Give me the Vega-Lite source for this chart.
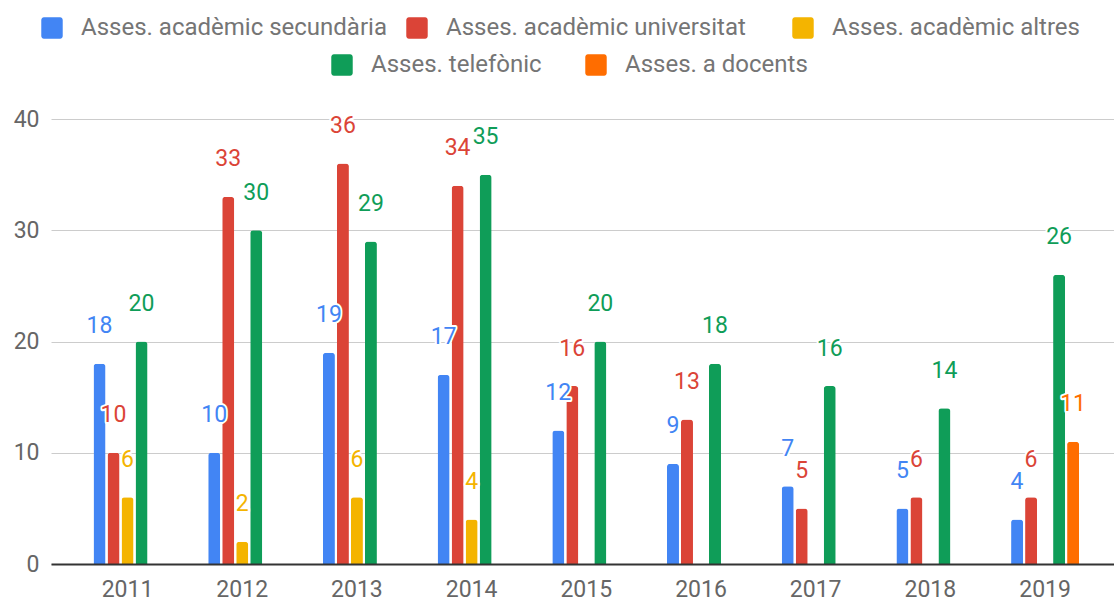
{
  "$schema": "https://vega.github.io/schema/vega-lite/v6.json",
  "width": 1063,
  "height": 445,
  "autosize": {"type": "none"},
  "padding": {"left": 51, "top": 119, "right": 0, "bottom": 37},
  "background": "white",
  "config": {
    "font": "Roboto",
    "view": {"stroke": null},
    "legend": {
      "title": null,
      "orient": "none",
      "direction": "horizontal",
      "symbolType": "M-0.75,-1L0.75,-1A0.25,0.25 0 0 1 1,-0.75L1,0.75A0.25,0.25 0 0 1 0.75,1L-0.75,1A0.25,0.25 0 0 1 -1,0.75L-1,-0.75A0.25,0.25 0 0 1 -0.75,-1Z",
      "symbolSize": 460,
      "symbolStrokeWidth": 0,
      "symbolOpacity": 1,
      "labelFontSize": 24,
      "labelColor": "#757575",
      "labelOffset": 17,
      "labelLimit": 500
    }
  },
  "data": {
    "values": [
      {"year": "2011", "series": "Asses. acadèmic secundària", "value": 18},
      {"year": "2011", "series": "Asses. acadèmic universitat", "value": 10},
      {"year": "2011", "series": "Asses. acadèmic altres", "value": 6},
      {"year": "2011", "series": "Asses. telefònic", "value": 20},
      {"year": "2012", "series": "Asses. acadèmic secundària", "value": 10},
      {"year": "2012", "series": "Asses. acadèmic universitat", "value": 33},
      {"year": "2012", "series": "Asses. acadèmic altres", "value": 2},
      {"year": "2012", "series": "Asses. telefònic", "value": 30},
      {"year": "2013", "series": "Asses. acadèmic secundària", "value": 19},
      {"year": "2013", "series": "Asses. acadèmic universitat", "value": 36},
      {"year": "2013", "series": "Asses. acadèmic altres", "value": 6},
      {"year": "2013", "series": "Asses. telefònic", "value": 29},
      {"year": "2014", "series": "Asses. acadèmic secundària", "value": 17},
      {"year": "2014", "series": "Asses. acadèmic universitat", "value": 34},
      {"year": "2014", "series": "Asses. acadèmic altres", "value": 4},
      {"year": "2014", "series": "Asses. telefònic", "value": 35},
      {"year": "2015", "series": "Asses. acadèmic secundària", "value": 12},
      {"year": "2015", "series": "Asses. acadèmic universitat", "value": 16},
      {"year": "2015", "series": "Asses. telefònic", "value": 20},
      {"year": "2016", "series": "Asses. acadèmic secundària", "value": 9},
      {"year": "2016", "series": "Asses. acadèmic universitat", "value": 13},
      {"year": "2016", "series": "Asses. telefònic", "value": 18},
      {"year": "2017", "series": "Asses. acadèmic secundària", "value": 7},
      {"year": "2017", "series": "Asses. acadèmic universitat", "value": 5},
      {"year": "2017", "series": "Asses. telefònic", "value": 16},
      {"year": "2018", "series": "Asses. acadèmic secundària", "value": 5},
      {"year": "2018", "series": "Asses. acadèmic universitat", "value": 6},
      {"year": "2018", "series": "Asses. telefònic", "value": 14},
      {"year": "2019", "series": "Asses. acadèmic secundària", "value": 4},
      {"year": "2019", "series": "Asses. acadèmic universitat", "value": 6},
      {"year": "2019", "series": "Asses. telefònic", "value": 26},
      {"year": "2019", "series": "Asses. a docents", "value": 11}
    ]
  },
  "encoding": {
    "x": {
      "field": "year",
      "type": "ordinal",
      "scale": {"paddingInner": 0.407, "paddingOuter": 0.3375, "align": 0.549},
      "axis": {
        "title": null,
        "ticks": false,
        "grid": false,
        "domain": true,
        "domainColor": "#333333",
        "domainWidth": 2,
        "labelAngle": 0,
        "labelFontSize": 23,
        "labelColor": "#666666",
        "labelPadding": 14,
        "zindex": 1
      }
    },
    "xOffset": {
      "field": "series",
      "type": "nominal",
      "scale": {
        "domain": ["Asses. acadèmic secundària", "Asses. acadèmic universitat", "Asses. acadèmic altres", "Asses. telefònic", "Asses. a docents"],
        "paddingInner": 0.143,
        "paddingOuter": 0
      }
    },
    "y": {
      "field": "value",
      "type": "quantitative",
      "scale": {"domain": [0, 40], "nice": false},
      "axis": {
        "title": null,
        "values": [0, 10, 20, 30, 40],
        "ticks": false,
        "domain": false,
        "grid": true,
        "gridColor": "#cccccc",
        "labelFontSize": 23,
        "labelColor": "#666666",
        "labelPadding": 12
      }
    }
  },
  "layer": [
    {
      "transform": [{"filter": {"field": "series", "oneOf": ["Asses. acadèmic secundària", "Asses. acadèmic universitat"]}}],
      "mark": {"type": "bar", "cornerRadiusEnd": 3},
      "encoding": {
        "color": {
          "field": "series",
          "type": "nominal",
          "scale": {
            "domain": ["Asses. acadèmic secundària", "Asses. acadèmic universitat"],
            "range": ["#4285F4", "#DB4437"]
          },
          "legend": {"legendX": -11, "legendY": -103, "columns": 2, "columnPadding": 18}
        }
      }
    },
    {
      "transform": [{"filter": {"field": "series", "oneOf": ["Asses. acadèmic altres"]}}],
      "mark": {"type": "bar", "cornerRadiusEnd": 3},
      "encoding": {
        "color": {
          "field": "series",
          "type": "nominal",
          "scale": {
            "domain": ["Asses. acadèmic altres"],
            "range": ["#F4B400"]
          },
          "legend": {"legendX": 740, "legendY": -103, "columns": 1}
        }
      }
    },
    {
      "transform": [{"filter": {"field": "series", "oneOf": ["Asses. telefònic", "Asses. a docents"]}}],
      "mark": {"type": "bar", "cornerRadiusEnd": 3},
      "encoding": {
        "color": {
          "field": "series",
          "type": "nominal",
          "scale": {
            "domain": ["Asses. telefònic", "Asses. a docents"],
            "range": ["#0F9D58", "#FF6D00"]
          },
          "legend": {"legendX": 279, "legendY": -66, "columns": 2, "columnPadding": 42}
        }
      }
    },
    {
      "mark": {"type": "text", "dy": -37.5, "baseline": "middle", "fontSize": 23, "fill": "white", "stroke": "white", "strokeWidth": 4, "strokeJoin": "round"},
      "encoding": {"text": {"field": "value", "type": "quantitative"}}
    },
    {
      "mark": {"type": "text", "dy": -37.5, "baseline": "middle", "fontSize": 23},
      "encoding": {
        "text": {"field": "value", "type": "quantitative"},
        "color": {
          "field": "series",
          "type": "nominal",
          "scale": {
            "domain": ["Asses. acadèmic secundària", "Asses. acadèmic universitat", "Asses. acadèmic altres", "Asses. telefònic", "Asses. a docents"],
            "range": ["#4285F4", "#DB4437", "#F4B400", "#0F9D58", "#FF6D00"]
          },
          "legend": null
        }
      }
    }
  ],
  "resolve": {"scale": {"color": "independent"}}
}
